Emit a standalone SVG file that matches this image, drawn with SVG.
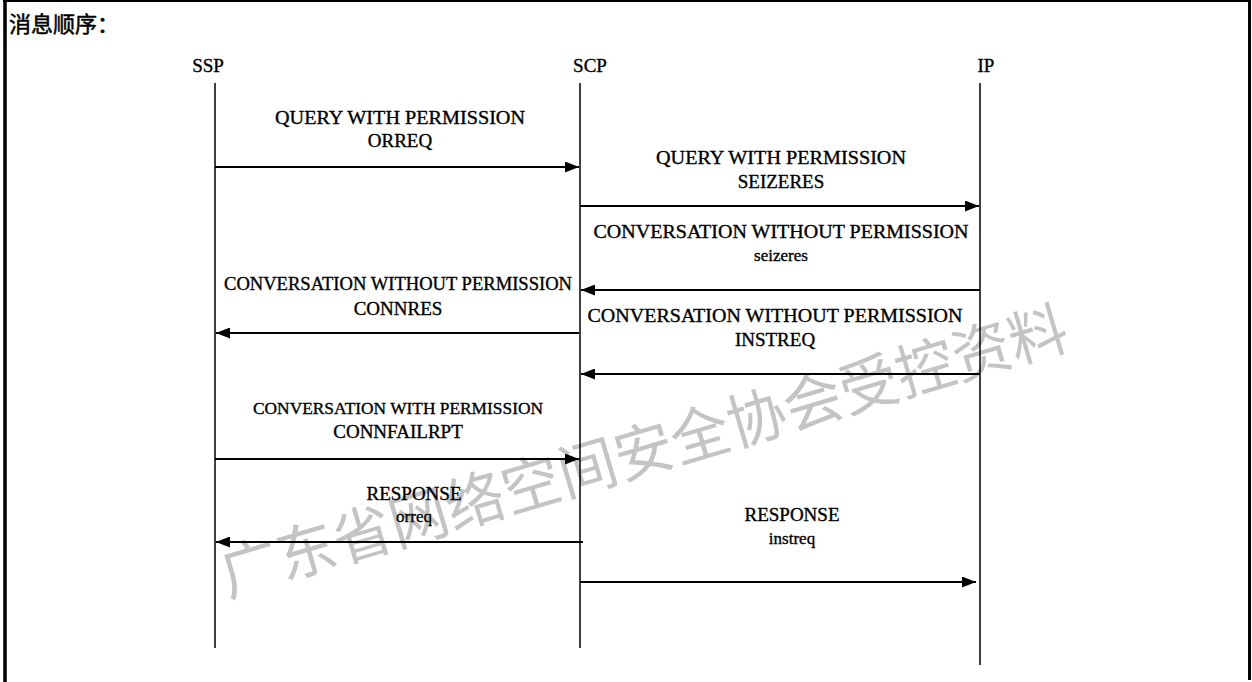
<svg xmlns="http://www.w3.org/2000/svg" width="1252" height="682" viewBox="0 0 1252 682">
<style>
.lbl{font-family:"Liberation Serif","Times New Roman",serif;font-size:19px;fill:#000;stroke:#000;stroke-width:0.35;text-anchor:middle}
.sm{font-size:17px}
.life{stroke:#000;stroke-width:1.5;fill:none}
.msg{stroke:#000;stroke-width:2;fill:none;marker-end:url(#ah)}
.frame{stroke:#000;fill:none}
</style>
<defs>
<marker id="ah" markerWidth="14" markerHeight="11" refX="14" refY="5.5" orient="auto" markerUnits="userSpaceOnUse">
<path d="M0,0 L14,5.5 L0,11 Z" fill="#000"/>
</marker>
</defs>
<rect width="1252" height="682" fill="#fff"/>
<g id="frame">
<line class="frame" x1="3" y1="1" x2="1251" y2="1" stroke-width="2"/>
<line class="frame" x1="5" y1="0" x2="5" y2="682" stroke-width="3.5"/>
<line class="frame" x1="1249.5" y1="0" x2="1249.5" y2="680" stroke-width="3"/>
</g>
<text x="9" y="32" style="font-family:'Noto Sans CJK SC','Noto Sans CJK JP',sans-serif;font-size:22px;fill:#000;stroke:#000;stroke-width:0.5">消息顺序：</text>
<g id="watermark">
<text x="650" y="472" transform="rotate(-16.5 650 472)" text-anchor="middle" textLength="880" lengthAdjust="spacingAndGlyphs" style="font-family:'Noto Sans CJK SC','Noto Sans CJK JP',sans-serif;font-size:60px;fill:#c4c4c4">广东省网络空间安全协会受控资料</text>
</g>
<g id="SSP">
<text class="lbl" x="208" y="72">SSP</text>
<line class="life" x1="215" y1="83" x2="215" y2="648"/>
</g>
<g id="SCP">
<text class="lbl" x="590" y="72">SCP</text>
<line class="life" x1="580" y1="83" x2="580" y2="648"/>
</g>
<g id="IP">
<text class="lbl" x="986" y="72">IP</text>
<line class="life" x1="980" y1="83" x2="980" y2="665"/>
</g>
<g id="connectors">
<line class="msg" x1="215" y1="167" x2="579" y2="167"/>
<line class="msg" x1="580" y1="206" x2="979" y2="206"/>
<line class="msg" x1="980" y1="290" x2="581" y2="290"/>
<line class="msg" x1="579" y1="333" x2="216" y2="333"/>
<line class="msg" x1="980" y1="374" x2="581" y2="374"/>
<line class="msg" x1="215" y1="459" x2="579" y2="459"/>
<line class="msg" x1="583" y1="542" x2="216" y2="542"/>
<line class="msg" x1="580" y1="582" x2="976" y2="582"/>
</g>
<g id="labels">
<text class="lbl" x="400" y="124" textLength="250" lengthAdjust="spacingAndGlyphs">QUERY WITH PERMISSION</text>
<text class="lbl" x="400" y="147">ORREQ</text>
<text class="lbl" x="781" y="164" textLength="250" lengthAdjust="spacingAndGlyphs">QUERY WITH PERMISSION</text>
<text class="lbl" x="781" y="188">SEIZERES</text>
<text class="lbl" x="781" y="238" textLength="375" lengthAdjust="spacingAndGlyphs">CONVERSATION WITHOUT PERMISSION</text>
<text class="lbl sm" x="781" y="261">seizeres</text>
<text class="lbl" x="398" y="290" textLength="348" lengthAdjust="spacingAndGlyphs">CONVERSATION WITHOUT PERMISSION</text>
<text class="lbl" x="398" y="315">CONNRES</text>
<text class="lbl" x="775" y="322" textLength="375" lengthAdjust="spacingAndGlyphs">CONVERSATION WITHOUT PERMISSION</text>
<text class="lbl" x="775" y="346">INSTREQ</text>
<text class="lbl sm" x="398" y="414" textLength="290" lengthAdjust="spacingAndGlyphs">CONVERSATION WITH PERMISSION</text>
<text class="lbl" x="398" y="438">CONNFAILRPT</text>
<text class="lbl" x="414" y="500">RESPONSE</text>
<text class="lbl sm" x="414" y="522">orreq</text>
<text class="lbl" x="792" y="521">RESPONSE</text>
<text class="lbl sm" x="792" y="544">instreq</text>
</g>
</svg>
